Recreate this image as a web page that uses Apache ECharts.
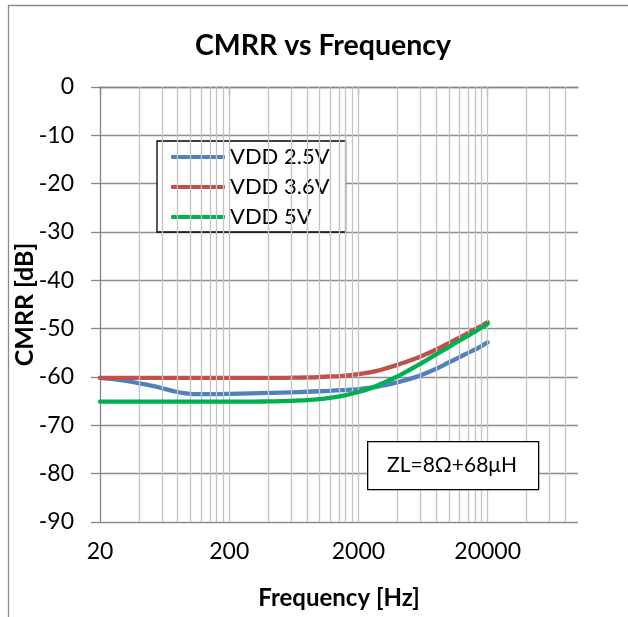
<!DOCTYPE html>
<html><head><meta charset="utf-8">
<script src="https://cdn.jsdelivr.net/npm/echarts@6/dist/echarts.min.js"></script>
<style>html,body{margin:0;padding:0;background:#fff}#c{width:628px;height:617px}</style>
</head><body><div id="c"></div>
<script>
// ---- data (frequency in Hz, CMRR in dB) ----
const freqHz = [20, 30, 40, 50, 60, 70, 80, 90, 100, 120, 150, 200, 300, 400, 500, 600, 800, 1000, 1200, 1500, 2000, 2500, 3000, 4000, 5000, 6000, 8000, 10000, 12000, 14000, 16000, 18000, 20000];
const vdd25 = [-60.2, -60.7, -61.3, -61.8, -62.3, -62.75, -63.1, -63.35, -63.5, -63.55, -63.55, -63.5, -63.4, -63.3, -63.25, -63.2, -63.05, -62.95, -62.85, -62.7, -62.5, -62.2, -61.85, -61.1, -60.4, -59.7, -58.3, -57.0, -55.95, -55.05, -54.3, -53.55, -52.85];
const vdd36 = [-60.2, -60.2, -60.2, -60.2, -60.2, -60.2, -60.2, -60.2, -60.2, -60.2, -60.2, -60.2, -60.2, -60.2, -60.2, -60.15, -60.1, -60.0, -59.9, -59.75, -59.4, -59.0, -58.5, -57.5, -56.6, -55.8, -54.3, -53.0, -51.9, -50.95, -50.1, -49.35, -48.65];
const vdd50 = [-65.1, -65.1, -65.1, -65.1, -65.1, -65.1, -65.1, -65.1, -65.1, -65.1, -65.1, -65.1, -65.1, -65.05, -65.0, -64.95, -64.8, -64.6, -64.3, -63.9, -63.1, -62.3, -61.4, -59.9, -58.5, -57.3, -55.3, -53.8, -52.55, -51.5, -50.6, -49.75, -49.0];
const seriesNames = ['VDD 2.5V', 'VDD 3.6V', 'VDD 5V'];
const xTickHz = [20, 200, 2000, 20000];
const xMinHz = 20, xMaxHz = 100000;
const yMin = -90, yMax = 0, yStep = 10;
const titleText = 'CMRR vs Frequency';
const xName = 'Frequency [Hz]';
const yName = 'CMRR [dB]';
const noteText = 'ZL=8Ω+68μH';

// ---- log mapping (decades above 20 Hz) ----
const toX = f => Math.log10(f / xMinHz);
const pairs = ys => freqHz.map((f, i) => [toX(f), ys[i]]);

// vertical grid lines at 20*k*10^d (Excel log minor grid)
const gridFreqs = [];
for (let d = 0; d < 4; d++) for (let k = 2; k <= 10; k++) {
  const f = xMinHz * k * Math.pow(10, d);
  if (f <= xMaxHz) gridFreqs.push(f);
}

const FONT = 'Lato';
const colors = ['#4F81BD', '#C0504D', '#00B050'];
const ys = [vdd25, vdd36, vdd50];

const chart = echarts.init(document.getElementById('c'), null, {renderer: 'canvas'});
const series = [{
  type: 'line', data: [], silent: true, symbol: 'none', z: 1,
  markLine: {
    silent: true, symbol: 'none', animation: false, label: {show: false},
    lineStyle: {type: 'solid', color: '#c3c3c3', width: 1.3},
    emphasis: {disabled: true},
    data: gridFreqs.map(f => ({xAxis: toX(f)}))
  }
}];
seriesNames.forEach((n, i) => series.push({
  name: n, type: 'line', data: pairs(ys[i]), symbol: 'none', showSymbol: false,
  smooth: 0.3, z: 3 + i,
  lineStyle: {color: colors[i], width: 4.3, cap: 'round', join: 'round'},
  itemStyle: {color: colors[i]}
}));

chart.setOption({
  animation: false,
  backgroundColor: '#fff',
  title: {
    text: titleText, left: 318, top: 26, textAlign: 'center',
    textStyle: {fontFamily: FONT, fontWeight: 'bold', fontSize: 28.5, color: '#000'}
  },
  grid: {left: 100, right: 50, top: 87, bottom: 95, containLabel: false, outerBoundsMode: 'none'},
  legend: {
    data: seriesNames, orient: 'vertical', left: 157, top: 141,
    icon: 'roundRect',
    borderColor: '#000', borderWidth: 1.3, backgroundColor: '#fff', borderRadius: 0,
    padding: [5, 16, 4, 14], itemWidth: 54, itemHeight: 4, itemGap: 8,
    textStyle: {fontFamily: FONT, fontSize: 22, color: '#000', lineHeight: 20}
  },
  xAxis: {
    type: 'value', min: toX(xMinHz), max: toX(xMaxHz), interval: 1,
    name: xName, nameLocation: 'middle', nameGap: 64, nameMoveOverlap: false,
    nameTextStyle: {fontFamily: FONT, fontWeight: 'bold', fontSize: 24, color: '#000'},
    axisLine: {show: true, lineStyle: {color: '#868686', width: 1.3}},
    axisTick: {show: true, inside: false, length: 8, lineStyle: {color: '#868686', width: 1.3},
      customValues: xTickHz.map(toX)},
    axisLabel: {fontFamily: FONT, fontSize: 23, color: '#000', margin: 18,
      customValues: xTickHz.map(toX),
      formatter: v => String(Math.round(xMinHz * Math.pow(10, v)))},
    splitLine: {show: false}
  },
  yAxis: {
    type: 'value', min: yMin, max: yMax, interval: yStep,
    name: yName, nameLocation: 'middle', nameGap: 63, nameRotate: 90, nameMoveOverlap: false,
    nameTextStyle: {fontFamily: FONT, fontWeight: 'bold', fontSize: 25, color: '#000'},
    axisLine: {show: true, lineStyle: {color: '#868686', width: 1.3}},
    axisTick: {show: true, inside: false, length: 9, lineStyle: {color: '#868686', width: 1.3}},
    axisLabel: {fontFamily: FONT, fontSize: 23, color: '#000', margin: 26},
    splitLine: {show: true, lineStyle: {color: '#8c8c8c', width: 1.3}}
  },
  graphic: [
    {type: 'rect', left: 6, top: 3, z: -10, silent: true,
      shape: {width: 800, height: 800}, style: {fill: 'none', stroke: '#8a8a8a', lineWidth: 1.3}},
    {type: 'rect', left: 367, top: 441, z: 10,
      shape: {width: 171, height: 48}, style: {fill: '#fff', stroke: '#000', lineWidth: 1.3}},
    {type: 'text', x: 452, y: 465, z: 11,
      style: {text: noteText, font: '21px Lato', fill: '#000', textAlign: 'center', textVerticalAlign: 'middle'}}
  ],
  series: series
});
</script></body></html>
